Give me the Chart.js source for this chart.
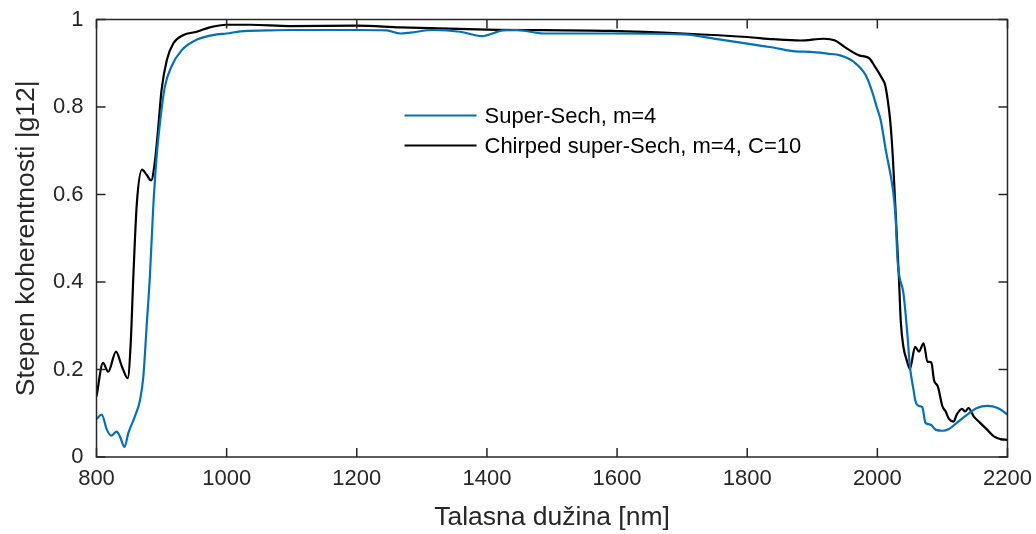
<!DOCTYPE html>
<html>
<head>
<meta charset="utf-8">
<script src="https://cdn.jsdelivr.net/npm/chart.js@4/dist/chart.umd.min.js"></script>
<style>
  html, body { margin: 0; padding: 0; background: #ffffff; }
  canvas { display: block; }
</style>
</head>
<body>
<canvas id="c" width="1036" height="534"></canvas>
<script>
// Degree of coherence |g12| versus wavelength for two pulse shapes.

const superSechLabel = 'Super-Sech, m=4';
const chirpedLabel = 'Chirped super-Sech, m=4, C=10';

// Super-Sech, m=4
const superSechWavelength = [
  800, 808, 816, 823, 831, 836, 843, 849, 859, 867, 872, 877, 882, 887, 892, 898,
  905, 915, 931, 954, 985, 1000, 1021, 1062, 1097, 1200, 1246, 1267, 1282, 1317,
  1359, 1392, 1425, 1446, 1487, 1590, 1702, 1754, 1800, 1840, 1874, 1897, 1923,
  1943, 1963, 1982, 1992, 1999, 2005, 2013, 2024, 2028, 2031, 2034, 2040, 2046,
  2050, 2056, 2058, 2063, 2069, 2074, 2082, 2090, 2100, 2110, 2122, 2138, 2153,
  2169, 2185, 2200
];
const superSechCoherence = [
  0.087, 0.097, 0.062, 0.049, 0.058, 0.047, 0.023, 0.055, 0.093, 0.131, 0.184, 0.298,
  0.412, 0.565, 0.679, 0.770, 0.846, 0.892, 0.930, 0.954, 0.966, 0.968, 0.973, 0.975,
  0.976, 0.976, 0.975, 0.968, 0.970, 0.976, 0.972, 0.962, 0.975, 0.976, 0.968, 0.968,
  0.966, 0.955, 0.945, 0.936, 0.927, 0.926, 0.922, 0.918, 0.904, 0.873, 0.835, 0.800,
  0.771, 0.701, 0.610, 0.549, 0.450, 0.412, 0.375, 0.283, 0.207, 0.150, 0.131, 0.117,
  0.114, 0.078, 0.074, 0.062, 0.060, 0.064, 0.078, 0.097, 0.112, 0.117, 0.112, 0.097
];

// Chirped super-Sech, m=4, C=10
const chirpedWavelength = [
  800, 810, 818, 830, 839, 848, 852.6, 856.6, 862, 870, 877, 884, 890, 895, 900, 908,
  918, 933, 954, 974, 1000, 1036, 1097, 1200, 1267, 1400, 1590, 1702, 1800, 1840,
  1882, 1918, 1935, 1950, 1972, 1987, 1996, 2007, 2012, 2016, 2020, 2024, 2029, 2033,
  2036, 2040, 2045, 2050, 2058, 2064, 2071, 2077, 2083, 2087, 2093, 2100, 2105, 2110,
  2117, 2122, 2130, 2135, 2140, 2148, 2158, 2169, 2179, 2189, 2200
];
const chirpedCoherence = [
  0.138, 0.215, 0.195, 0.241, 0.207, 0.180, 0.261, 0.412, 0.580, 0.657, 0.645, 0.632,
  0.679, 0.755, 0.839, 0.907, 0.945, 0.964, 0.972, 0.982, 0.988, 0.988, 0.985, 0.986,
  0.982, 0.977, 0.974, 0.968, 0.960, 0.955, 0.952, 0.956, 0.952, 0.937, 0.918, 0.912,
  0.893, 0.866, 0.850, 0.815, 0.765, 0.680, 0.530, 0.415, 0.310, 0.252, 0.222, 0.201,
  0.252, 0.241, 0.260, 0.218, 0.216, 0.176, 0.161, 0.116, 0.104, 0.087, 0.081, 0.097,
  0.110, 0.104, 0.112, 0.093, 0.078, 0.062, 0.047, 0.041, 0.039
];

// Tick positions on both axes
const xTicks = [800, 1000, 1200, 1400, 1600, 1800, 2000, 2200];
const yTicks = [0, 0.2, 0.4, 0.6, 0.8, 1];

const axisColor = '#262626';
const fontFamily = '"Liberation Sans", Arial, Helvetica, sans-serif';

function toPoints(xs, ys) {
  return xs.map((x, i) => ({ x: x, y: ys[i] }));
}

// Inward tick marks on all four sides plus the surrounding box
const boxTicksPlugin = {
  id: 'boxTicks',
  afterDatasetsDraw(chart) {
    const { ctx, chartArea: a, scales } = chart;
    const len = 9;
    ctx.save();
    ctx.strokeStyle = axisColor;
    ctx.lineWidth = 1.5;
    ctx.beginPath();
    scales.x.ticks.forEach(t => {
      const px = scales.x.getPixelForValue(t.value);
      ctx.moveTo(px, a.bottom); ctx.lineTo(px, a.bottom - len);
      ctx.moveTo(px, a.top); ctx.lineTo(px, a.top + len);
    });
    scales.y.ticks.forEach(t => {
      const py = scales.y.getPixelForValue(t.value);
      ctx.moveTo(a.left, py); ctx.lineTo(a.left + len, py);
      ctx.moveTo(a.right, py); ctx.lineTo(a.right - len, py);
    });
    ctx.stroke();
    ctx.strokeRect(a.left, a.top, a.right - a.left, a.bottom - a.top);
    ctx.restore();
  }
};

// Legend inside the axes, without a frame
const innerLegendPlugin = {
  id: 'innerLegend',
  afterDraw(chart) {
    const { ctx, chartArea: a } = chart;
    const x0 = a.left + 308;
    const lineLen = 72;
    const y0 = a.top + 96;
    const rowGap = 30;
    ctx.save();
    ctx.font = '22px ' + fontFamily;
    ctx.textBaseline = 'middle';
    ctx.textAlign = 'left';
    chart.data.datasets.forEach((ds, i) => {
      const y = y0 + i * rowGap;
      ctx.strokeStyle = ds.borderColor;
      ctx.lineWidth = 2.2;
      ctx.beginPath();
      ctx.moveTo(x0, y);
      ctx.lineTo(x0 + lineLen, y);
      ctx.stroke();
      ctx.fillStyle = '#000000';
      ctx.fillText(ds.label, x0 + lineLen + 8, y + 1);
    });
    ctx.restore();
  }
};

new Chart(document.getElementById('c'), {
  type: 'line',
  data: {
    datasets: [
      {
        label: superSechLabel,
        data: toPoints(superSechWavelength, superSechCoherence),
        borderColor: '#0072BD',
        borderWidth: 2.2,
        pointRadius: 0,
        cubicInterpolationMode: 'monotone',
        fill: false
      },
      {
        label: chirpedLabel,
        data: toPoints(chirpedWavelength, chirpedCoherence),
        borderColor: '#000000',
        borderWidth: 2.2,
        pointRadius: 0,
        cubicInterpolationMode: 'monotone',
        fill: false
      }
    ]
  },
  options: {
    responsive: false,
    animation: false,
    layout: { padding: { left: 0, right: 28.5, top: 19.5, bottom: 0 } },
    plugins: {
      legend: { display: false },
      tooltip: { enabled: false }
    },
    scales: {
      x: {
        type: 'linear',
        min: xTicks[0],
        max: xTicks[xTicks.length - 1],
        afterBuildTicks(scale) { scale.ticks = xTicks.map(v => ({ value: v })); },
        afterFit(scale) {
          scale.height = 77;
          scale.paddingLeft = 0;
          scale.paddingRight = 0;
        },
        grid: { display: false, drawTicks: false },
        border: { display: false },
        ticks: {
          color: axisColor,
          font: { family: fontFamily, size: 22 },
          padding: 9,
          maxRotation: 0,
          autoSkip: false,
          callback: v => String(v)
        },
        title: {
          display: true,
          text: 'Talasna dužina [nm]',
          color: axisColor,
          font: { family: fontFamily, size: 26.5 },
          padding: { top: 0, bottom: 0 }
        }
      },
      y: {
        type: 'linear',
        min: yTicks[0],
        max: yTicks[yTicks.length - 1],
        afterBuildTicks(scale) { scale.ticks = yTicks.map(v => ({ value: v })); },
        afterFit(scale) {
          scale.width = 96.5;
          scale.paddingTop = 0;
          scale.paddingBottom = 0;
        },
        grid: { display: false, drawTicks: false },
        border: { display: false },
        ticks: {
          color: axisColor,
          font: { family: fontFamily, size: 22 },
          padding: 13,
          autoSkip: false,
          callback: v => String(Math.round(v * 10) / 10)
        },
        title: {
          display: true,
          text: 'Stepen koherentnosti |g12|',
          color: axisColor,
          font: { family: fontFamily, size: 26.5 },
          padding: { top: 11, bottom: 0 }
        }
      }
    }
  },
  plugins: [boxTicksPlugin, innerLegendPlugin]
});
</script>
</body>
</html>
